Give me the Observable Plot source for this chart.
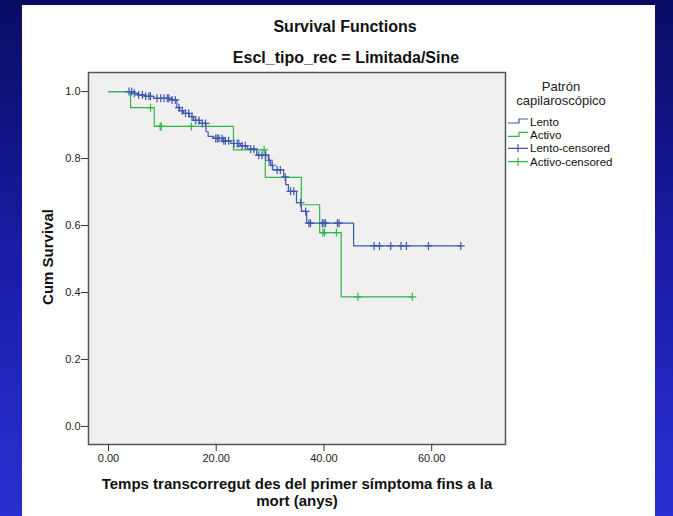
<!DOCTYPE html>
<html>
<head>
<meta charset="utf-8">
<script src="https://cdn.jsdelivr.net/npm/d3@7"></script>
<script src="https://cdn.jsdelivr.net/npm/@observablehq/plot@0.6"></script>
<style>
  html, body { margin: 0; padding: 0; }
  body {
    width: 673px; height: 516px; position: relative; overflow: hidden;
    background: linear-gradient(to bottom, #0a0b62 0%, #1a1ca6 50%, #2a2fd2 100%);
    font-family: "Liberation Sans", Arial, sans-serif;
  }
  #panel { position: absolute; left: 22px; top: 5px; width: 633px; height: 511px; background: #fff; }
  #chart { position: absolute; left: 0; top: 0; }
  .txt { position: absolute; white-space: nowrap; color: #111; }
  .c { transform: translate(-50%, -50%); text-align: center; }
  .title { font-size: 16px; font-weight: bold; }
  .axlab { font-size: 15px; font-weight: bold; line-height: 17px; }
  #legend { position: absolute; left: 0; top: 0; }
</style>
</head>
<body>
<div id="panel"></div>
<div id="chart"></div>
<div class="txt c title" style="left:345px; top:27px;">Survival Functions</div>
<div class="txt c title" style="left:346px; top:58px;">Escl_tipo_rec = Limitada/Sine</div>
<div class="txt axlab" style="left:47px; top:257px; transform: translate(-50%, -50%) rotate(-90deg);">Cum Survival</div>
<div class="txt c axlab" style="left:297px; top:492px;">Temps transcorregut des del primer símptoma fins a la<br>mort (anys)</div>
<svg id="legend" width="673" height="516"></svg>
<script>
// Kaplan-Meier estimates by capillaroscopic pattern (time in years)
const lentoTime = [0, 4.6, 5.4, 6.7, 8.4, 11.5, 12.7, 13.2, 13.9, 15.0, 15.8, 16.9, 18.1, 18.5, 19.5, 21.2, 22.7, 24.5, 25.8, 27.5, 29.7, 30.1, 30.5, 32.5, 32.9, 33.4, 34.9, 35.8, 36.8, 45.5, 65.4];
const lentoSurv = [1.0, 0.995, 0.990, 0.986, 0.980, 0.975, 0.952, 0.943, 0.935, 0.925, 0.914, 0.905, 0.880, 0.866, 0.860, 0.853, 0.845, 0.838, 0.828, 0.810, 0.795, 0.780, 0.766, 0.745, 0.722, 0.702, 0.668, 0.642, 0.607, 0.539, 0.539];
const lentoCensored = [3.8, 4.3, 4.8, 5.6, 6.3, 6.9, 7.5, 7.8, 9.0, 9.7, 10.3, 10.9, 11.2, 11.8, 12.4, 13.1, 13.7, 14.3, 14.9, 15.5, 16.2, 16.8, 17.4, 18.0, 19.9, 20.2, 20.5, 21.1, 21.4, 21.7, 22.3, 23.3, 23.9, 24.2, 24.8, 25.4, 26.4, 27.0, 27.9, 28.5, 29.2, 29.8, 30.4, 31.3, 31.9, 32.8, 33.8, 34.4, 35.65, 36.6, 37.2, 37.5, 39.7, 40.0, 40.3, 42.5, 42.8, 49.3, 50.3, 52.4, 54.3, 55.3, 59.4, 65.4];

const activoTime = [0, 4.1, 8.5, 23.2, 29.1, 35.8, 39.2, 43.2, 56.4];
const activoSurv = [1.0, 0.952, 0.896, 0.826, 0.744, 0.662, 0.579, 0.387, 0.387];
const activoCensored = [7.8, 9.6, 9.8, 15.4, 28.9, 39.8, 40.1, 42.3, 46.3, 56.4];

const colors = ["#3e58ac", "#2eb848"];

const xTicks = [0, 20, 40, 60];
const yTicks = [0, 0.2, 0.4, 0.6, 0.8, 1.0];

// survival level at time t from a step function
function survAt(times, surv, t) {
  let s = surv[0];
  for (let i = 0; i < times.length; i++) if (times[i] <= t) s = surv[i];
  return s;
}
const steps = (times, surv, g) => times.map((t, i) => ({t, s: surv[i], g}));
const cens = (list, times, surv, g) => list.map(t => ({t, s: survAt(times, surv, t), g}));

const lentoSteps = steps(lentoTime, lentoSurv, "Lento");
const activoSteps = steps(activoTime, activoSurv, "Activo");
const lentoCens = cens(lentoCensored, lentoTime, lentoSurv, "Lento");
const activoCens = cens(activoCensored, activoTime, activoSurv, "Activo");

// open "+" glyph for censored observations
const plusSymbol = {
  draw(ctx, size) {
    const r = Math.sqrt(size / Math.PI);
    ctx.moveTo(-r, 0); ctx.lineTo(r, 0);
    ctx.moveTo(0, -r); ctx.lineTo(0, r);
  }
};

const plot = Plot.plot({
  width: 673,
  height: 516,
  marginLeft: 88,
  marginRight: 168,
  marginTop: 72,
  marginBottom: 72,
  style: {background: "none", fontFamily: "'Liberation Sans', Arial, sans-serif", fontSize: "11px", color: "#222"},
  x: {domain: [-3.71, 73.7]},
  y: {domain: [-0.054, 1.057]},
  marks: [
    Plot.frame({fill: "#f0f0f0", stroke: "none"}),
    Plot.line(lentoSteps, {x: "t", y: "s", curve: "step-after", stroke: colors[0], strokeWidth: 1.2}),
    Plot.line(activoSteps, {x: "t", y: "s", curve: "step-after", stroke: colors[1], strokeWidth: 1.2}),
    Plot.dot(lentoCens, {x: "t", y: "s", symbol: plusSymbol, r: 4, stroke: colors[0], fill: "none", strokeWidth: 1.2}),
    Plot.dot(activoCens, {x: "t", y: "s", symbol: plusSymbol, r: 4, stroke: colors[1], fill: "none", strokeWidth: 1.2}),
    Plot.frame({stroke: "#555", strokeWidth: 1.5}),
    Plot.axisX({ticks: xTicks, tickFormat: d3.format(".2f"), tickSize: 7, tickPadding: 3, label: null, stroke: "#333"}),
    Plot.axisY({ticks: yTicks, tickFormat: d3.format(".1f"), tickSize: 7, tickPadding: 1, label: null, stroke: "#333"})
  ]
});
document.getElementById("chart").appendChild(plot);

// legend
const leg = d3.select("#legend");
leg.append("text").attr("x", 561).attr("y", 91).attr("text-anchor", "middle")
  .attr("font-size", 13).attr("fill", "#222").text("Patrón");
leg.append("text").attr("x", 561).attr("y", 105).attr("text-anchor", "middle")
  .attr("font-size", 13).attr("fill", "#222").text("capilaroscópico");
const items = [
  {label: "Lento", color: colors[0], kind: "line"},
  {label: "Activo", color: colors[1], kind: "line"},
  {label: "Lento-censored", color: colors[0], kind: "cens"},
  {label: "Activo-censored", color: colors[1], kind: "cens"}
];
items.forEach((d, i) => {
  const cy = 121.5 + i * 13.4;
  const g = leg.append("g");
  if (d.kind === "line") {
    g.append("path").attr("d", `M508,${cy + 1.5}H519V${cy - 2.5}H528`)
      .attr("fill", "none").attr("stroke", d.color).attr("stroke-width", 1.2);
  } else {
    g.append("path").attr("d", `M508,${cy}H528M518,${cy - 4}V${cy + 4}`)
      .attr("fill", "none").attr("stroke", d.color).attr("stroke-width", 1.2);
  }
  g.append("text").attr("x", 530).attr("y", cy + 4).attr("font-size", 11.5)
    .attr("fill", "#111").text(d.label);
});
</script>
</body>
</html>
